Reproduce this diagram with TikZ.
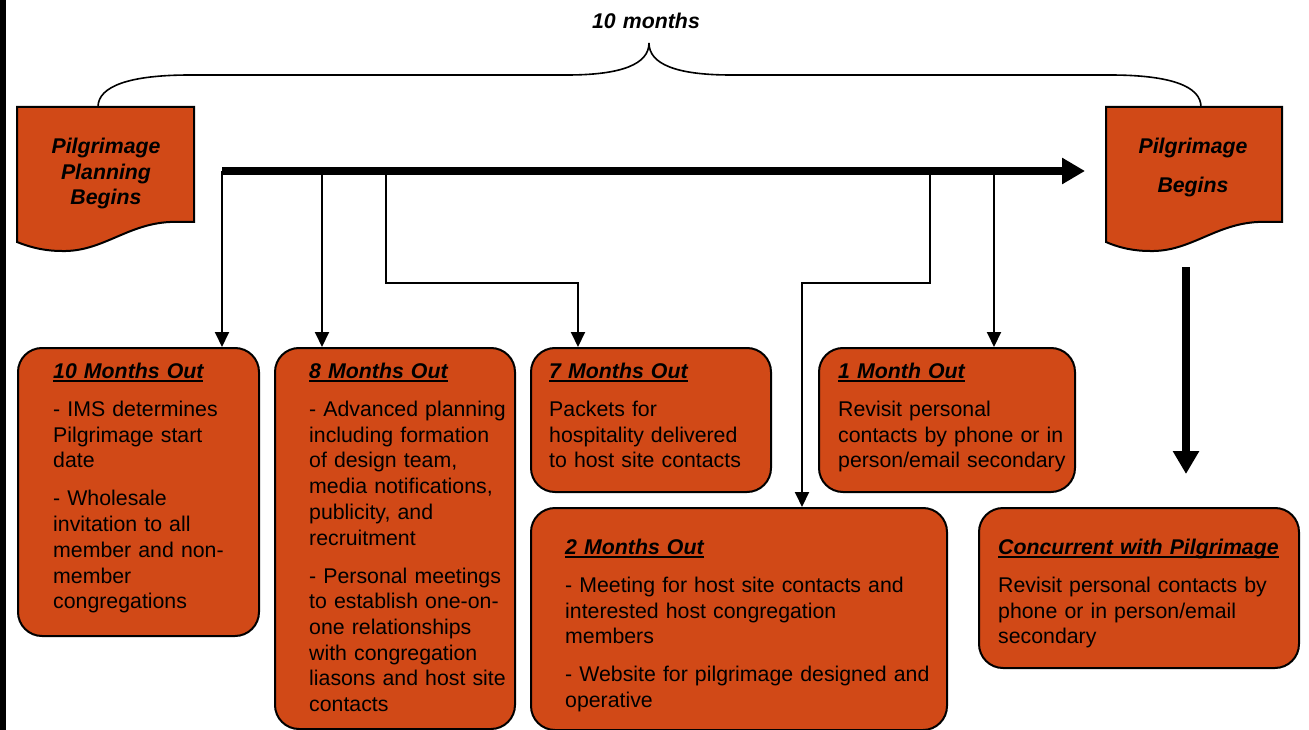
\documentclass[tikz,border=0pt]{standalone}
\usepackage{fontspec}
\setmainfont{Liberation Sans}
\usetikzlibrary{arrows.meta}
\definecolor{boxorange}{RGB}{209,73,23}
\newsavebox{\hdbox}
\newcommand{\hd}[1]{{\bfseries\itshape\sbox{\hdbox}{#1}\rlap{\rule[-3.6pt]{\wd\hdbox}{1.4pt}}\usebox{\hdbox}}}
\begin{document}
\begin{tikzpicture}[x=1pt,y=-1pt,
  box/.style={draw=black, line width=2pt, fill=boxorange, rounded corners=24pt, anchor=north west, inner sep=0pt},
  docshape/.style={draw=black, line width=2pt, fill=boxorange},
  txt/.style={anchor=base west, text width=390pt, align=left, inner sep=0pt, font=\fontsize{21.3}{25.7}\selectfont},
  doctxt/.style={anchor=base, text width=170pt, align=center, inner sep=0pt, font=\fontsize{21.3}{25.7}\selectfont\bfseries\itshape},
  conn/.style={line width=2pt, -{Triangle[length=15pt,width=14pt]}},
  bigarrow/.style={line width=7.5pt, -{Triangle[length=23pt,width=25pt]}}
]
\useasboundingbox (0,0) rectangle (1309,730);
\fill[white] (0,0) rectangle (1309,730);
\fill[black] (0,0) rectangle (6,730);

% document shapes
\draw[docshape] (17,107) -- (194,107) -- (194,222) -- (170,222)
  .. controls (127,224) and (102,252) .. (62,251)
  .. controls (42,251) and (27,246) .. (17,242) -- cycle;
\draw[docshape] (1106,107) -- (1282,107) -- (1282,222) -- (1258,222)
  .. controls (1215,224) and (1190,252) .. (1150,251)
  .. controls (1130,251) and (1115,246) .. (1106,242) -- cycle;
\node[doctxt] (docL) at (106,153.6) {Pilgrimage\\Planning\\Begins};
\node[doctxt] (docR) at (1193,153.6) {Pilgrimage\\[13pt]Begins};
\coordinate (braceL) at (98,107);
\coordinate (braceR) at (1201,107);

% brace
\draw[line width=1.6pt] (braceL) .. controls (98,86) and (130,75) .. (190,75) -- (567,75)
  .. controls (622,75) and (649,64) .. (649,43)
  .. controls (649,64) and (676,75) .. (731,75) -- (1110,75)
  .. controls (1170,75) and (1201,86) .. (braceR);
\node[doctxt] (title) at (646,28.5) {10 months};

% boxes
\node[box, minimum width=241pt, minimum height=288pt] (b10) at (17,347) {};
\node[box, minimum width=240pt, minimum height=381pt] (b8) at (274,347) {};
\node[box, minimum width=240pt, minimum height=144pt] (b7) at (530,347) {};
\node[box, minimum width=256pt, minimum height=144pt] (b1) at (818,347) {};
\node[box, minimum width=416pt, minimum height=222pt] (b2) at (530,507) {};
\node[box, minimum width=320pt, minimum height=160pt] (bc) at (978,507) {};

\node[txt] (t10) at (53,378) {\hd{10 Months Out}\\[12.8pt]
- IMS determines\\Pilgrimage start\\date\\[12.3pt]
- Wholesale\\invitation to all\\member and non-\\member\\congregations};
\node[txt] (t8) at (309,378) {\hd{8 Months Out}\\[12.8pt]
- Advanced planning\\including formation\\of design team,\\media notifications,\\publicity, and\\recruitment\\[12.3pt]
- Personal meetings\\to establish one-on-\\one relationships\\with congregation\\liasons and host site\\contacts};
\node[txt] (t7) at (549,378) {\hd{7 Months Out}\\[12.8pt]
Packets for\\hospitality delivered\\to host site contacts};
\node[txt] (t1) at (838,378) {\hd{1 Month Out}\\[12.8pt]
Revisit personal\\contacts by phone or in\\person/email secondary};
\node[txt] (t2) at (565,554) {\hd{2 Months Out}\\[12.8pt]
- Meeting for host site contacts and\\interested host congregation\\members\\[12.3pt]
- Website for pilgrimage designed and\\operative};
\node[txt] (tc) at (998,554) {\hd{Concurrent with Pilgrimage}\\[12.8pt]
Revisit personal contacts by\\phone or in person/email\\secondary};

% timeline
\coordinate (bs) at (222,171);
\coordinate (be) at (1085,171);
\draw[bigarrow] (bs) -- (be);
\coordinate (d10) at (222,171);
\coordinate (d8) at (322,171);
\coordinate (d7) at (386,171);
\coordinate (d2) at (930,171);
\coordinate (d1) at (994,171);
\coordinate (k7) at (578,283);
\coordinate (k2) at (802,283);
\draw[conn] (d10) -- (d10 |- b10.north);
\draw[conn] (d8) -- (d8 |- b8.north);
\draw[conn] (d7) |- (k7) -- (k7 |- b7.north);
\draw[conn] (d2) |- (k2) -- (k2 |- b2.north);
\draw[conn] (d1) -- (d1 |- b1.north);

\coordinate (ds) at (1186,267);
\coordinate (de) at (1186,474);
\draw[bigarrow] (ds) -- (de);
\end{tikzpicture}
\end{document}
